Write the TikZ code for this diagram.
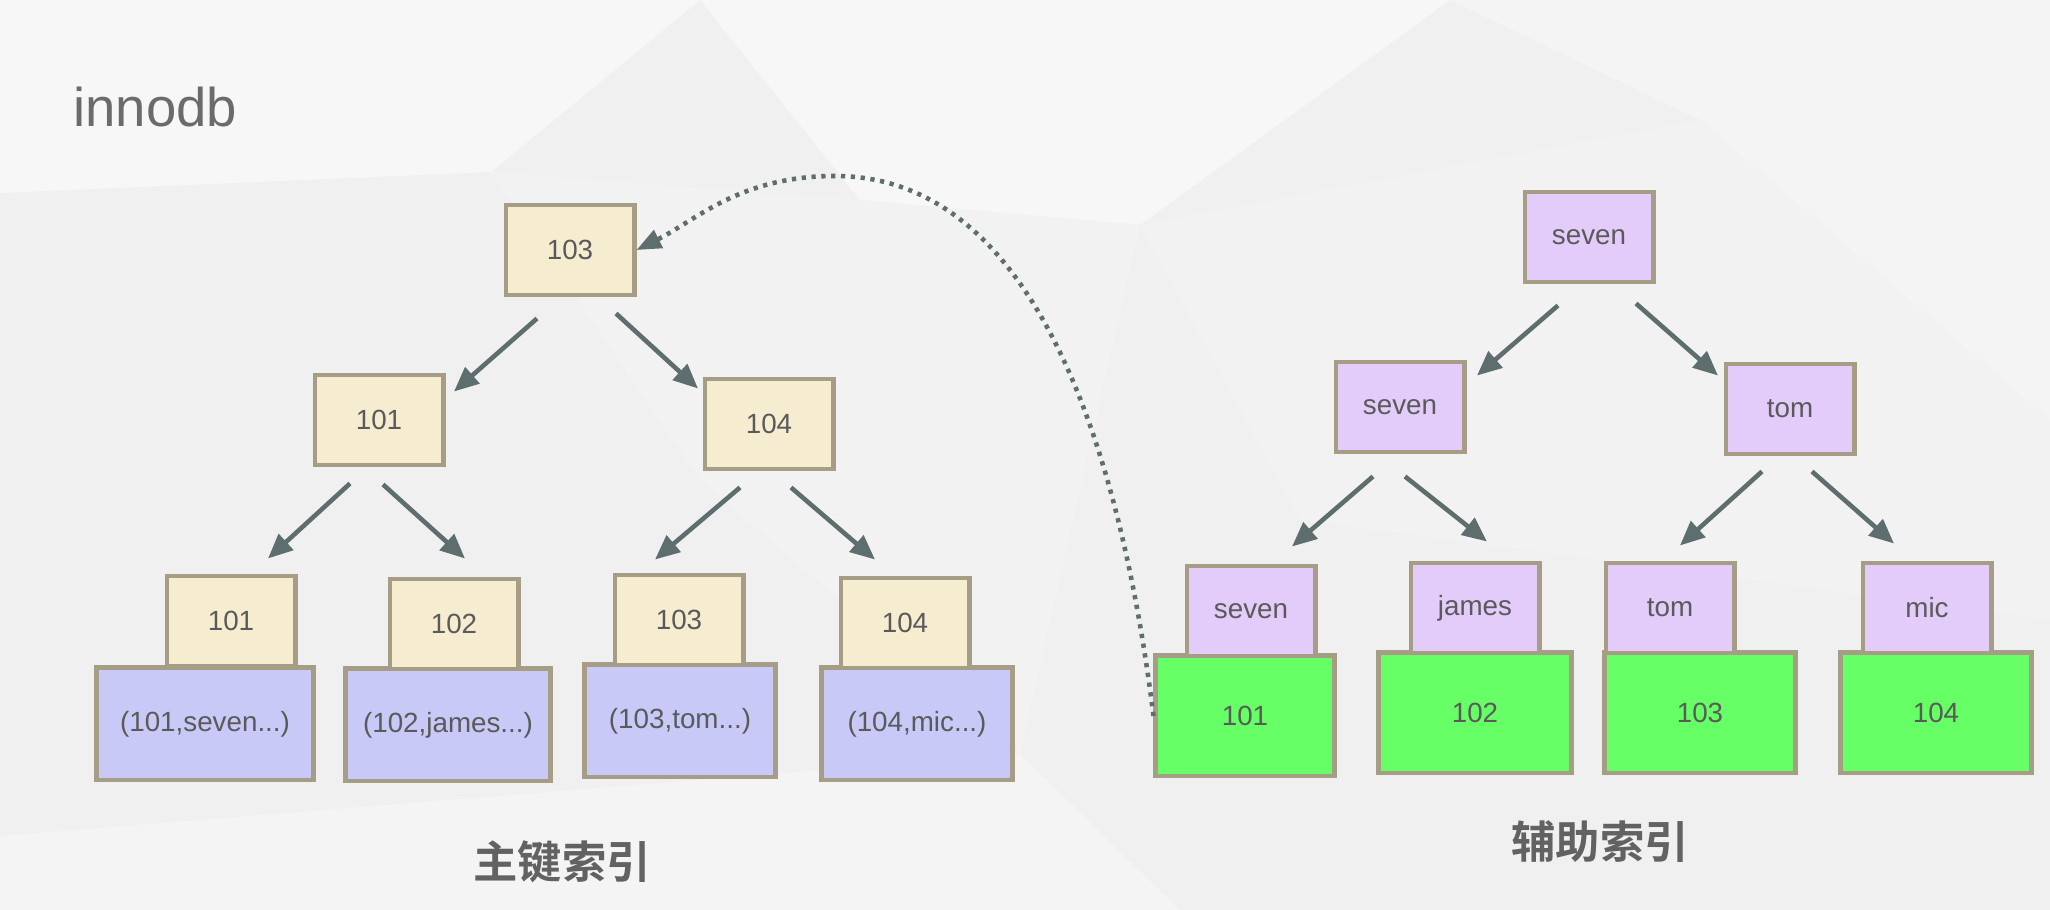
\documentclass[tikz,border=0pt]{standalone}
\usepackage{fontspec}
\setmainfont{Liberation Sans}
\newfontfamily\cjk{Noto Sans CJK SC}[BoldFont={* Bold}]
\usetikzlibrary{arrows.meta,calc}

\definecolor{keyfill}{HTML}{F6EDD1}
\definecolor{lilac}{HTML}{E3CCFA}
\definecolor{rowfill}{HTML}{C9C9F8}
\definecolor{leafgreen}{HTML}{66FF66}
\definecolor{edge}{HTML}{A69D87}
\definecolor{link}{HTML}{5E6D6D}
\definecolor{ink}{HTML}{5A5A5A}
\definecolor{bgbase}{HTML}{F0F0F0}
\definecolor{facetA}{HTML}{F7F7F7}
\definecolor{facetB}{HTML}{F4F4F4}
\definecolor{facetC}{HTML}{F2F2F2}

\begin{document}
\begin{tikzpicture}[x=0.01cm,y=-0.01cm,
  box/.style={draw=edge, line width=1.4pt, inner sep=0pt, text=ink,
    font=\fontsize{7.9}{9}\selectfont, minimum width=1.28cm, minimum height=0.9cm},
  keybox/.style={box, fill=keyfill},
  namebox/.style={box, fill=lilac},
  rowbox/.style={box, fill=rowfill, minimum height=1.12cm},
  pkbox/.style={box, fill=leafgreen, minimum height=1.2cm},
  child/.style={draw=link, line width=1.3pt, -{Triangle[length=7pt,width=6pt]}},
  lookup/.style={draw=link, line width=1.3pt, dash pattern=on 1.2pt off 1.6pt,
    -{Triangle[length=7pt,width=5.5pt]}},
  caption/.style={text=ink!95, font=\cjk\bfseries\fontsize{12.6}{15}\selectfont},
]
% page and faint faceted background
\useasboundingbox (0,0) rectangle (2050,910);
\fill[bgbase] (0,0) rectangle (2050,910);
\fill[facetA] (0,0) -- (700,0) -- (491,172) -- (0,193) -- cycle;
\fill[facetA] (700,0) -- (1450,0) -- (1140,225) -- (860,200) -- cycle;
\fill[facetB] (1450,0) -- (2050,0) -- (2050,420) -- (1700,120) -- cycle;
\fill[facetB] (0,836) -- (1020,754) -- (1180,910) -- (0,910) -- cycle;
\fill[facetC] (491,172) -- (860,200) -- (1140,225) -- (1020,754) -- (700,480) -- cycle;
\fill[facetC] (1140,225) -- (1700,120) -- (2050,420) -- (2050,620) -- (1300,520) -- cycle;

% title
\node[text=ink!90, font=\fontsize{15.5}{18}\selectfont, anchor=base west] (title) at (61,127) {innodb};

% clustered (primary key) index
\node[keybox] (r103) at (570,250) {103};
\node[keybox] (n101) at (379,420) {101};
\node[keybox] (n104) at (769,424) {104};

\node[rowbox, minimum width=2.16cm] (row101) at (205,724) {(101,seven...)};
\node[rowbox, minimum width=2.04cm] (row102) at (448,725) {(102,james...)};
\node[rowbox, minimum width=1.91cm] (row103) at (680,721) {(103,tom...)};
\node[rowbox, minimum width=1.91cm] (row104) at (917,724) {(104,mic...)};

\node[keybox] (k101) at (231,621) {101};
\node[keybox] (k102) at (454,624) {102};
\node[keybox] (k103) at (679,620) {103};
\node[keybox] (k104) at (905,623) {104};

\draw[child] ($(r103.south)+(-33,21)$) -- ($(n101.north)+(75,19)$);
\draw[child] ($(r103.south)+(46,16)$) -- ($(n104.north)+(-71,12)$);
\draw[child] ($(n101.south)+(-29,16)$) -- ($(k101.north)+(37,-15)$);
\draw[child] ($(n101.south)+(4,17)$) -- ($(k102.north)+(11,-18)$);
\draw[child] ($(n104.south)+(-29,16)$) -- ($(k103.north)+(-24,-13)$);
\draw[child] ($(n104.south)+(22,16)$) -- ($(k104.north)+(-30,-16)$);

\node[caption] (pkcap) at (562,862) {主键索引};

% secondary index
\node[namebox] (rs) at (1589,237) {seven};
\node[namebox] (s2) at (1400,407) {seven};
\node[namebox] (t2) at (1790,409) {tom};

\node[pkbox, minimum width=1.78cm] (g101) at (1245,716) {101};
\node[pkbox, minimum width=1.92cm] (g102) at (1475,713) {102};
\node[pkbox, minimum width=1.91cm] (g103) at (1700,713) {103};
\node[pkbox, minimum width=1.90cm] (g104) at (1936,713) {104};

\node[namebox] (ks) at (1251,611) {seven};
\node[namebox] (kj) at (1475,608) {james};
\node[namebox] (kt) at (1670,608) {tom};
\node[namebox] (km) at (1927,608) {mic};

\draw[child] ($(rs.south)+(-31,21)$) -- ($(s2.north)+(77,16)$);
\draw[child] ($(rs.south)+(47,19)$) -- ($(t2.north)+(-72,14)$);
\draw[child] ($(s2.south)+(-27,22)$) -- ($(ks.north)+(41,-17)$);
\draw[child] ($(s2.south)+(5,22)$) -- ($(kj.north)+(12,-19)$);
\draw[child] ($(t2.south)+(-28,15)$) -- ($(kt.north)+(10,-15)$);
\draw[child] ($(t2.south)+(22,15)$) -- ($(km.north)+(-33,-17)$);

\node[caption] (skcap) at (1600,842) {辅助索引};

% back-lookup from the secondary leaf to the clustered root
\coordinate (arcTop) at (835,176);
\draw[lookup] (g101.west) .. controls ($(g101.west)+(-28,-225)$) and ($(arcTop)+(215,0)$) .. (arcTop)
  .. controls ($(arcTop)+(-95,0)$) and ($(r103.east)+(60,-30)$) .. (r103.east);
\end{tikzpicture}
\end{document}
